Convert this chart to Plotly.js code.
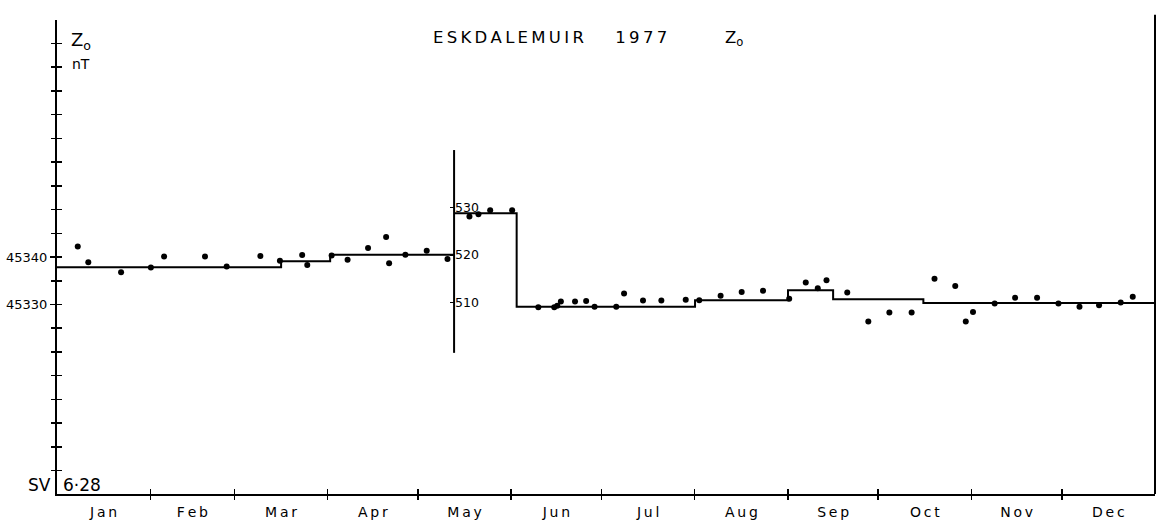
<!DOCTYPE html>
<html>
<head>
<meta charset="utf-8">
<script src="https://cdn.plot.ly/plotly-3.0.1.min.js"></script>
<style>html,body{margin:0;padding:0;background:#fff;}#chart{width:1160px;height:530px;}</style>
</head>
<body>
<div id="chart"></div>
<script>
// ---- Data (day of year 1977, Z in nT) ----
// Jan – mid May, plotted on the main scale (45330, 45340 ...)
const days1 = [6.9, 10.4, 21.3, 31.2, 35.6, 49.2, 56.4, 67.6, 74.1, 81.5, 83.2, 91.3, 96.6, 103.4, 109.4, 110.4, 115.8, 122.9, 129.8];
const vals1 = [45342.2, 45338.9, 45336.8, 45337.8, 45340.1, 45340.1, 45338.0, 45340.2, 45339.2, 45340.4, 45338.3, 45340.3, 45339.4, 45341.9, 45344.2, 45338.7, 45340.5, 45341.3, 45339.6];
// mid May – Dec, plotted on the inset scale (510, 520, 530)
const days2 = [137.1, 140.1, 144.0, 151.3, 160.0, 165.3, 166.3, 167.5, 172.2, 175.9, 178.7, 185.9, 188.5, 194.8, 200.9, 209.0, 213.5, 220.6, 227.6, 234.7, 243.4, 248.9, 252.9, 255.8, 262.7, 269.7, 276.7, 284.1, 291.7, 298.6, 302.1, 304.5, 311.7, 318.5, 325.8, 332.9, 339.9, 346.4, 353.6, 357.6];
const vals2 = [528.1, 528.6, 529.4, 529.4, 509.0, 509.0, 509.3, 510.2, 510.2, 510.3, 509.1, 509.1, 511.9, 510.4, 510.4, 510.6, 510.5, 511.4, 512.2, 512.5, 510.8, 514.2, 513.0, 514.7, 512.1, 506.0, 507.9, 507.9, 515.0, 513.5, 506.0, 508.0, 509.8, 511.0, 511.0, 509.8, 509.1, 509.4, 510.0, 511.2];
// baseline steps
const stepDays1 = [0, 74.5, 90.8, 132];
const stepVals1 = [45337.85, 45339.1, 45340.5, 45340.5];
const stepDays2 = [132, 152.8, 212.1, 243, 258, 288, 365];
const stepVals2 = [528.8, 509.1, 510.5, 512.6, 510.7, 509.9, 509.9];
// axes
const monthNames = ['Jan','Feb','Mar','Apr','May','Jun','Jul','Aug','Sep','Oct','Nov','Dec'];
const monthMid = [15.5, 45, 74.5, 105, 135.5, 166, 196.5, 227.5, 258, 288.5, 319, 349.5];
const monthStart = [31, 59, 90, 120, 151, 181, 212, 243, 273, 304, 334];
const zTicks = [45295,45300,45305,45310,45315,45320,45325,45330,45335,45340,45345,45350,45355,45360,45365,45370,45375,45380,45385,45390];
const zLabelled = [45330, 45340];
const zLabelText = ['45330', '45340'];
const insetTicks = [510, 520, 530];
const insetLabels = ['510', '520', '530'];
const breakDay = 132;
const insetSpan = [499.4, 542.1];
const zRange = [45290.1, 45389.9];
const insetOffset = 44820.42;

const FONT = 'DejaVu Sans, Liberation Sans, sans-serif';
const spaced = s => s.split('').join('\u2009');

const traces = [
  {x: stepDays1, y: stepVals1, type: 'scatter', mode: 'lines', line: {shape: 'hv', color: '#000', width: 2}, xaxis: 'x', yaxis: 'y', hoverinfo: 'skip'},
  {x: stepDays2, y: stepVals2, type: 'scatter', mode: 'lines', line: {shape: 'hv', color: '#000', width: 2}, xaxis: 'x', yaxis: 'y2', hoverinfo: 'skip'},
  {x: days1, y: vals1, type: 'scatter', mode: 'markers', marker: {color: '#000', size: 6}, xaxis: 'x', yaxis: 'y'},
  {x: days2, y: vals2, type: 'scatter', mode: 'markers', marker: {color: '#000', size: 6}, xaxis: 'x', yaxis: 'y2'},
  // invisible helpers so overlay tick axes get drawn
  {x: [0], y: [zRange[0]], type: 'scatter', mode: 'markers', marker: {opacity: 0}, xaxis: 'x2', yaxis: 'y3', hoverinfo: 'skip'},
  {x: [0], y: [zRange[0]], type: 'scatter', mode: 'markers', marker: {opacity: 0}, xaxis: 'x3', yaxis: 'y4', hoverinfo: 'skip'}
];

const tickX = {
  range: [0, 365], tickvals: monthStart, showticklabels: false, showgrid: false, zeroline: false,
  ticklen: 5, tickwidth: 1.5, tickcolor: '#000', showline: false
};
const tickY = {
  range: zRange, overlaying: 'y', tickvals: zTicks, showticklabels: false, ticklen: 5, tickwidth: 1.5, tickcolor: '#000',
  showgrid: false, zeroline: false, showline: false
};

const layout = {
  width: 1160, height: 530,
  margin: {l: 57, r: 5, t: 20, b: 36},
  paper_bgcolor: '#fff', plot_bgcolor: '#fff',
  showlegend: false,
  font: {family: FONT, color: '#000', size: 13},
  title: {
    text: spaced('ESKDALEMUIR') + '\u00a0\u00a0\u00a0\u00a0\u00a0\u00a0' + spaced('1977') + '\u00a0\u00a0\u00a0\u00a0\u00a0\u00a0\u00a0\u00a0\u00a0\u00a0\u00a0Z<sub>o</sub>',
    font: {family: FONT, size: 16.5, color: '#000'},
    x: 0.507, xanchor: 'center', y: 1 - 37/530, yanchor: 'middle'
  },
  xaxis: {
    range: [0, 365], tickvals: monthMid, ticktext: monthNames.map(spaced), ticks: '', showgrid: false, zeroline: false,
    showline: true, linewidth: 2, linecolor: '#000', anchor: 'y',
    tickfont: {family: FONT, size: 14, color: '#000'}, ticklabelstandoff: 4
  },
  xaxis2: Object.assign({}, tickX, {overlaying: 'x', anchor: 'y3', ticks: 'outside', side: 'bottom'}),
  xaxis3: Object.assign({}, tickX, {overlaying: 'x', anchor: 'y4', ticks: 'inside', side: 'bottom'}),
  yaxis: {
    range: zRange, tickvals: zLabelled, ticktext: zLabelText, ticks: 'outside', ticklen: 5, tickwidth: 1.5, tickcolor: '#000',
    showgrid: false, zeroline: false, showline: true, linewidth: 2, linecolor: '#000',
    tickfont: {family: FONT, size: 13, color: '#000'}
  },
  yaxis3: Object.assign({}, tickY, {ticks: 'inside'}),
  yaxis4: Object.assign({}, tickY, {ticks: 'outside'}),
  yaxis2: {
    range: [zRange[0] - insetOffset, zRange[1] - insetOffset], overlaying: 'y', anchor: 'free', position: breakDay / 365, side: 'right',
    tickvals: insetTicks, ticktext: insetLabels, ticks: 'inside', ticklen: 4, tickwidth: 1.5, tickcolor: '#000',
    showgrid: false, zeroline: false, showline: false,
    tickfont: {family: FONT, size: 12.5, color: '#000'}
  },
  shapes: [
    {type: 'line', xref: 'x', yref: 'y2', x0: breakDay, x1: breakDay, y0: insetSpan[0], y1: insetSpan[1], line: {color: '#000', width: 2}},
    {type: 'line', xref: 'paper', yref: 'paper', x0: 1, x1: 1, y0: 0, y1: 1.011, line: {color: '#000', width: 2}}
  ],
  annotations: [
    {xref: 'paper', yref: 'paper', x: 0.0105, y: 1 - 21/474, xanchor: 'left', yanchor: 'middle', showarrow: false, text: 'Z<sub>o</sub>', font: {family: FONT, size: 18, color: '#000'}},
    {xref: 'paper', yref: 'paper', x: 0.0115, y: 1 - 44/474, xanchor: 'left', yanchor: 'middle', showarrow: false, text: 'nT', font: {family: FONT, size: 14, color: '#000'}},
    {xref: 'paper', yref: 'paper', x: -0.004, y: 9/474, xanchor: 'right', yanchor: 'middle', showarrow: false, text: 'SV', font: {family: FONT, size: 17, color: '#000'}},
    {xref: 'paper', yref: 'paper', x: 0.004, y: 9/474, xanchor: 'left', yanchor: 'middle', showarrow: false, text: '6\u00b728', font: {family: FONT, size: 17, color: '#000'}}
  ]
};

Plotly.newPlot('chart', traces, layout, {displayModeBar: false, staticPlot: true});
</script>
</body>
</html>
